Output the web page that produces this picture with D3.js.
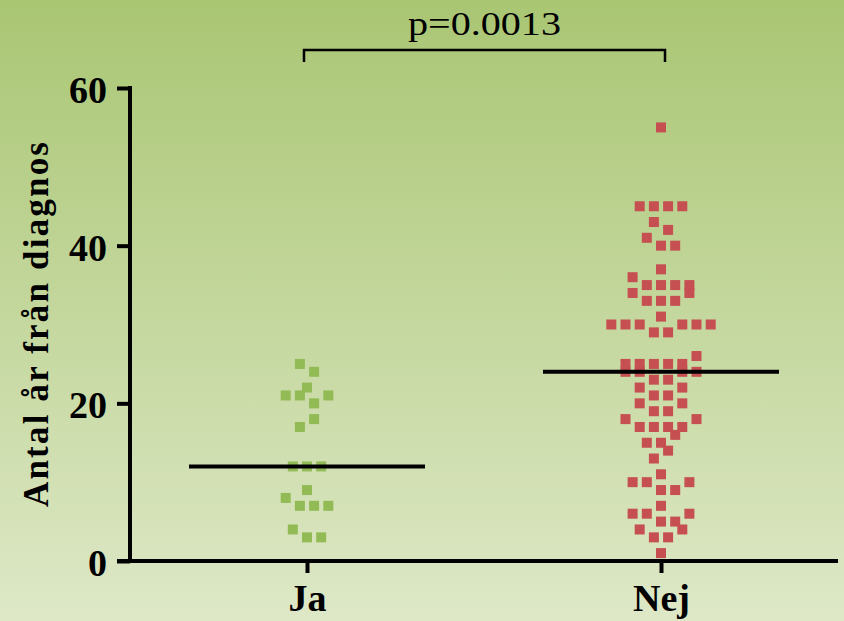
<!DOCTYPE html>
<html>
<head>
<meta charset="utf-8">
<script src="https://cdn.jsdelivr.net/npm/d3@7"></script>
<style>
  html, body { margin: 0; padding: 0; background: #ffffff; }
  svg { display: block; }
</style>
</head>
<body>
<svg id="chart" width="844" height="621"></svg>
<script>
// ---------------- data ----------------
const categories = ["Ja", "Nej"];
// values listed in column (data-entry) order
const jaValues = [4, 3, 3, 8, 7, 7, 7, 9, 12, 12, 12, 17, 18, 21, 21, 20, 21, 22, 25, 24];
const nejValues = [1, 4, 3, 3, 4, 6, 6, 5, 5, 6, 7, 10, 10, 9, 9, 10, 11, 13, 14, 15, 15, 16,
  18, 17, 17, 17, 17, 18, 20, 19, 19, 20, 22, 21, 21, 22, 24, 24, 23, 23, 24, 24,
  25, 25, 25, 25, 25, 26, 30, 30, 30, 29, 29, 30, 30, 30, 31, 34, 33, 33, 33, 34,
  36, 35, 35, 35, 35, 37, 41, 40, 40, 43, 42, 45, 45, 45, 45, 55];
const yTicks = [0, 20, 40, 60];
const yTitle = "Antal år från diagnos";
const pLabel = "p=0.0013";

// ---------------- styles ----------------
const colors = { Ja: "#92bb55", Nej: "#c64f51" };
const W = 844, H = 621;
const marker = 10;
const slotStep = 14.2;
const fontFam = "'Liberation Serif', 'Times New Roman', serif";

const svg = d3.select("#chart");
const defs = svg.append("defs");
const grad = defs.append("linearGradient").attr("id", "bg")
  .attr("x1", 0).attr("y1", 0).attr("x2", 0).attr("y2", 1);
grad.append("stop").attr("offset", "0%").attr("stop-color", "#a9c673");
grad.append("stop").attr("offset", "100%").attr("stop-color", "#dee8c7");
svg.append("rect").attr("width", W).attr("height", H).attr("fill", "url(#bg)");

// ---------------- scales ----------------
const yAxisX = 130;
const x = d3.scalePoint().domain(categories).range([130, 838]).padding(0.5);
const y = d3.scaleLinear().domain([0, 60]).range([561, 88]);

// ---------------- swarm layout (GraphPad-like binning) ----------------
function swarm(values, cat) {
  const pts = values.map((v, i) => ({ v, i, cat }));
  const sorted = pts.slice().sort((a, b) => a.v - b.v || a.i - b.i);
  let j = 0;
  while (j < sorted.length) {
    const start = sorted[j].v;
    const bin = [];
    while (j < sorted.length && sorted[j].v < start + 2) { bin.push(sorted[j]); j++; }
    bin.sort((a, b) => a.i - b.i);
    const n = bin.length;
    bin.forEach((p, k) => { p.slot = k - (n - 1) / 2; });
  }
  return pts;
}

const groups = [
  { cat: "Ja", values: jaValues },
  { cat: "Nej", values: nejValues }
];

const gPts = svg.append("g");
groups.forEach(g => {
  const pts = swarm(g.values, g.cat);
  gPts.selectAll(null).data(pts).enter().append("rect")
    .attr("x", d => x(d.cat) + d.slot * slotStep - marker / 2)
    .attr("y", d => y(d.v) - marker / 2)
    .attr("width", marker).attr("height", marker)
    .attr("fill", colors[g.cat]);
});

// median lines
const halfW = x.step() / 3;
svg.append("g").selectAll("line").data(groups).enter().append("line")
  .attr("x1", d => x(d.cat) - halfW).attr("x2", d => x(d.cat) + halfW)
  .attr("y1", d => y(d3.median(d.values))).attr("y2", d => y(d3.median(d.values)))
  .attr("stroke", "#000").attr("stroke-width", 4);

// ---------------- axes ----------------
const tickLen = 13;
// y axis
const yAxis = svg.append("g").attr("transform", `translate(${yAxisX},0)`)
  .call(d3.axisLeft(y).tickValues(yTicks).tickSize(tickLen).tickSizeOuter(0).tickPadding(10));
yAxis.select(".domain").remove();
yAxis.selectAll(".tick line").attr("stroke", "#000").attr("stroke-width", 4);
yAxis.selectAll(".tick text")
  .attr("font-family", fontFam).attr("font-weight", "bold").attr("font-size", 38)
  .attr("fill", "#000").attr("dy", "0.38em");
svg.append("line").attr("x1", yAxisX).attr("x2", yAxisX)
  .attr("y1", y(60) - 2).attr("y2", y(0))
  .attr("stroke", "#000").attr("stroke-width", 4);

// x axis
const xAxis = svg.append("g").attr("transform", `translate(0,${y(0)})`)
  .call(d3.axisBottom(x).tickSize(12).tickSizeOuter(0));
xAxis.select(".domain").remove();
xAxis.selectAll(".tick line").attr("stroke", "#000").attr("stroke-width", 4);
xAxis.selectAll(".tick text")
  .attr("font-family", fontFam).attr("font-weight", "bold").attr("font-size", 38)
  .attr("fill", "#000").attr("y", 50).attr("dy", 0);
svg.append("line").attr("x1", yAxisX - tickLen).attr("x2", x.range()[1])
  .attr("y1", y(0)).attr("y2", y(0))
  .attr("stroke", "#000").attr("stroke-width", 4);

// y title
svg.append("text")
  .attr("transform", `translate(48,${(y(0) + y(60)) / 2 + 0}) rotate(-90)`)
  .attr("text-anchor", "middle")
  .attr("font-family", fontFam).attr("font-weight", "bold").attr("font-size", 35)
  .attr("textLength", 365).attr("lengthAdjust", "spacing")
  .text(yTitle);

// significance bracket
const bx1 = x("Ja") - 3, bx2 = x("Nej") + 4, by = 50;
svg.append("path")
  .attr("d", `M${bx1},${by + 12}V${by}H${bx2}V${by + 12}`)
  .attr("fill", "none").attr("stroke", "#000").attr("stroke-width", 2.5);
svg.append("text")
  .attr("x", (bx1 + bx2) / 2).attr("y", 35)
  .attr("text-anchor", "middle")
  .attr("font-family", fontFam).attr("font-size", 33)
  .attr("textLength", 153).attr("lengthAdjust", "spacingAndGlyphs")
  .text(pLabel);
</script>
</body>
</html>
